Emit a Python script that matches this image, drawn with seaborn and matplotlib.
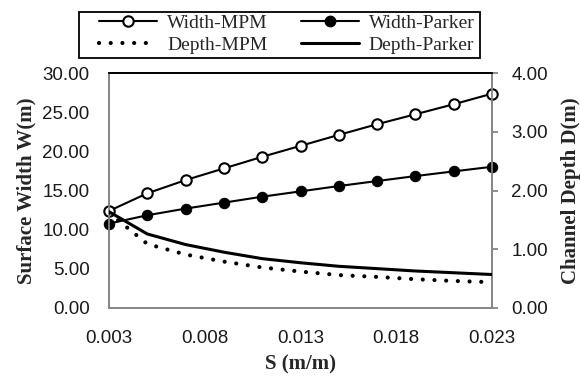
import numpy as np
import pandas as pd
import matplotlib
matplotlib.use("Agg")
import matplotlib.pyplot as plt
import seaborn as sns
from matplotlib.lines import Line2D
from matplotlib.patches import Rectangle

# ----------------------------
# Data
# ----------------------------
slope = [0.003, 0.005, 0.007, 0.009, 0.011, 0.013, 0.015, 0.017, 0.019, 0.021, 0.023]
width_mpm = [12.39, 14.64, 16.33, 17.82, 19.30, 20.70, 22.10, 23.46, 24.73, 26.01, 27.36]
width_parker = [10.78, 11.84, 12.69, 13.45, 14.21, 14.89, 15.57, 16.21, 16.84, 17.44, 18.03]
depth_mpm = [1.62, 1.09, 0.91, 0.79, 0.69, 0.62, 0.56, 0.53, 0.49, 0.46, 0.44]
depth_parker = [1.64, 1.26, 1.08, 0.95, 0.84, 0.77, 0.71, 0.67, 0.63, 0.60, 0.57]

x_ticks = [0.003, 0.008, 0.013, 0.018, 0.023]
w_ticks = [0, 5, 10, 15, 20, 25, 30]
d_ticks = [0, 1, 2, 3, 4]

df = pd.DataFrame({"S": slope, "W_MPM": width_mpm, "W_Parker": width_parker,
                   "D_MPM": depth_mpm, "D_Parker": depth_parker})

sns.set_style("white")
plt.rcParams["font.family"] = ["Liberation Sans", "DejaVu Sans"]

fig = plt.figure(figsize=(5.8, 3.76), dpi=100)
ax = fig.add_axes([109 / 580, 1 - 308 / 376, (492 - 109) / 580, (308 - 73) / 376])
ax2 = ax.twinx()

spine_gray = "#868686"
tick_color = "#1a1a1a"
dots = (0, (0.01, 2.8))

# width series (left axis)
sns.lineplot(data=df, x="S", y="W_MPM", ax=ax, color="black", lw=1.5,
             marker="o", markersize=7.5, markerfacecolor="white",
             markeredgecolor="black", markeredgewidth=1.5, zorder=4, clip_on=False)
sns.lineplot(data=df, x="S", y="W_Parker", ax=ax, color="black", lw=1.5,
             marker="o", markersize=7.5, markerfacecolor="black",
             markeredgecolor="black", zorder=4, clip_on=False)

# depth series (right axis)
sns.lineplot(data=df, x="S", y="D_MPM", ax=ax2, color="black", lw=3.0,
             linestyle=dots, dash_capstyle="round", zorder=3)
sns.lineplot(data=df, x="S", y="D_Parker", ax=ax2, color="black", lw=2.2, zorder=3)

ax.set_xlim(0.003, 0.023)
ax.set_ylim(0, 30)
ax2.set_ylim(0, 4)
ax.set_xticks(x_ticks)
ax.set_xticklabels([f"{v:.3f}" for v in x_ticks])
ax.set_yticks(w_ticks)
ax.set_yticklabels([f"{v:.2f}" for v in w_ticks])
ax2.set_yticks(d_ticks)
ax2.set_yticklabels([f"{v:.2f}" for v in d_ticks])

for a in (ax, ax2):
    for s in ("left", "right", "bottom"):
        a.spines[s].set_color(spine_gray)
        a.spines[s].set_linewidth(1.3)
    a.spines["top"].set_color("black")
    a.spines["top"].set_linewidth(1.3)

ax.tick_params(axis="x", length=0, labelsize=13.5, labelcolor=tick_color, pad=16)
ax.tick_params(axis="y", length=0, labelsize=13.5, labelcolor=tick_color, pad=14)
ax2.tick_params(axis="y", direction="out", length=4, width=1.3, color=spine_gray,
                labelsize=13.5, labelcolor=tick_color, pad=10)

serif = ["Liberation Serif", "DejaVu Serif"]
ax.set_xlabel("S (m/m)", family=serif, fontweight="bold", fontsize=15, labelpad=5)
ax.set_ylabel("Surface Width W(m)", family=serif, fontweight="bold", fontsize=15, labelpad=4)
ax2.set_ylabel("Channel Depth D(m)", family=serif, fontweight="bold", fontsize=15, labelpad=9)

# legend: filled row by row, so order is column-major for matplotlib
handles = [
    Line2D([], [], color="black", lw=1.5, marker="o", markersize=7.5,
           markerfacecolor="white", markeredgewidth=1.5),
    Line2D([], [], color="black", lw=3.0, linestyle=dots, dash_capstyle="round"),
    Line2D([], [], color="black", lw=1.5, marker="o", markersize=7.5,
           markerfacecolor="black"),
    Line2D([], [], color="black", lw=2.2),
]
labels = ["Width-MPM", "Depth-MPM", "Width-Parker", "Depth-Parker"]
fig.legend(handles, labels, ncol=2, loc="upper left",
           bbox_to_anchor=(99 / 580, 1 - 14 / 376), bbox_transform=fig.transFigure,
           frameon=False, borderaxespad=0, borderpad=0,
           prop={"family": serif, "size": 14}, handlelength=3.0,
           handletextpad=0.5, columnspacing=1.7, labelspacing=0.26)
fig.patches.append(Rectangle((79 / 580, 1 - 58 / 376), 401 / 580, 46 / 376,
                             transform=fig.transFigure, fill=False,
                             edgecolor="black", linewidth=1.3))

fig.savefig("out.png", dpi=100)
